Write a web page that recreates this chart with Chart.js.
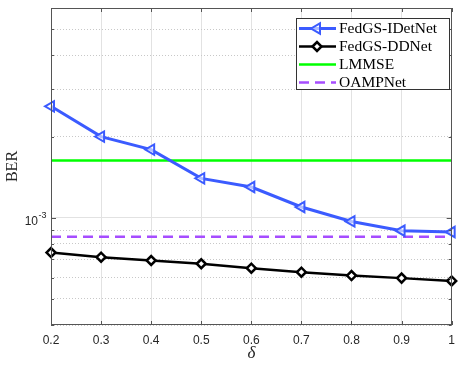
<!DOCTYPE html>
<html><head><meta charset="utf-8">
<script src="https://cdn.jsdelivr.net/npm/chart.js@4"></script>
<style>html,body{margin:0;padding:0;background:#fff}#wrap{width:463px;height:368px}</style>
</head><body><div id="wrap"><canvas id="c" width="463" height="368"></canvas></div>
<script>
// ---- data ----
const deltas = [0.2, 0.3, 0.4, 0.5, 0.6, 0.7, 0.8, 0.9, 1.0];
const fedgsIDetNet = [2.59e-3, 2.00e-3, 1.79e-3, 1.40e-3, 1.30e-3, 1.096e-3, 0.969e-3, 0.895e-3, 0.885e-3];
const fedgsDDNet = [0.743e-3, 0.714e-3, 0.694e-3, 0.675e-3, 0.650e-3, 0.628e-3, 0.610e-3, 0.597e-3, 0.583e-3];
const lmmse = [1.63e-3, 1.63e-3, 1.63e-3, 1.63e-3, 1.63e-3, 1.63e-3, 1.63e-3, 1.63e-3, 1.63e-3];
const oampNet = [0.85e-3, 0.85e-3, 0.85e-3, 0.85e-3, 0.85e-3, 0.85e-3, 0.85e-3, 0.85e-3, 0.85e-3];
const seriesNames = ['FedGS-IDetNet', 'FedGS-DDNet', 'LMMSE', 'OAMPNet'];
const xTickValues = [0.2, 0.3, 0.4, 0.5, 0.6, 0.7, 0.8, 0.9, 1.0];
const xTickLabels = ['0.2', '0.3', '0.4', '0.5', '0.6', '0.7', '0.8', '0.9', '1'];
const yTickValues = [4e-4, 5e-4, 6e-4, 7e-4, 8e-4, 9e-4, 1e-3, 2e-3, 3e-3, 4e-3, 5e-3, 6e-3];
const yMajorValues = [1e-3];
const yMajorLabels = [['10', '-3']];

const pts = arr => arr.map((v, i) => ({x: deltas[i], y: v}));
const isMajor = v => yMajorValues.some(m => Math.abs(v - m) / m < 1e-6);
const AXIS = '#262626';

const frame = {
  id: 'frame',
  afterDraw(chart) {
    const {ctx, chartArea: a, scales} = chart;
    ctx.save();
    // box
    ctx.strokeStyle = '#555';
    ctx.lineWidth = 1;
    ctx.strokeRect(Math.round(a.left) + 0.5, Math.round(a.top) + 0.5,
                   Math.round(a.right - a.left) - 1, Math.round(a.bottom - a.top) - 1);
    // inward ticks
    ctx.beginPath();
    scales.x.ticks.forEach(t => {
      const px = Math.round(scales.x.getPixelForValue(t.value)) + 0.5;
      ctx.moveTo(px, a.bottom); ctx.lineTo(px, a.bottom - 4);
      ctx.moveTo(px, a.top); ctx.lineTo(px, a.top + 4);
    });
    scales.y.ticks.forEach(t => {
      const py = Math.round(scales.y.getPixelForValue(t.value)) + 0.5;
      const L = isMajor(t.value) ? 5 : 3;
      ctx.moveTo(a.left, py); ctx.lineTo(a.left + L, py);
      ctx.moveTo(a.right, py); ctx.lineTo(a.right - L, py);
    });
    ctx.stroke();
    // y major labels with superscript
    ctx.fillStyle = AXIS;
    ctx.textBaseline = 'alphabetic';
    yMajorValues.forEach((v, i) => {
      const py = scales.y.getPixelForValue(v);
      const [base, sup] = yMajorLabels[i];
      ctx.font = '9px "Liberation Sans", Arial, sans-serif';
      const w2 = ctx.measureText(sup).width;
      const right = a.left - 4.5;
      ctx.textAlign = 'left';
      ctx.fillText(sup, right - w2, py + 0.5);
      ctx.font = '12px "Liberation Sans", Arial, sans-serif';
      ctx.textAlign = 'right';
      ctx.fillText(base, right - w2 - 0.5, py + 7);
    });
    // legend
    const lx = 296, ly = 18, lw = 153, lh = 71;
    ctx.fillStyle = '#fff';
    ctx.fillRect(lx, ly, lw, lh);
    ctx.strokeStyle = '#333';
    ctx.lineWidth = 1;
    ctx.strokeRect(lx + 0.5, ly + 0.5, lw, lh);
    chart.data.datasets.forEach((ds, i) => {
      const y = ly + 10.5 + i * 18;
      ctx.save();
      ctx.strokeStyle = ds.borderColor;
      ctx.lineWidth = ds.borderWidth;
      ctx.setLineDash(ds.borderDash || []);
      ctx.beginPath();
      ctx.moveTo(lx + 3, y); ctx.lineTo(lx + 40, y);
      ctx.stroke();
      ctx.restore();
      if (ds.pointRadius > 0) {
        ctx.save();
        ctx.fillStyle = ds.pointBackgroundColor;
        ctx.strokeStyle = ds.borderColor;
        ctx.lineWidth = ds.pointBorderWidth;
        Chart.helpers.drawPoint(ctx, {
          pointStyle: ds.pointStyle, rotation: ds.pointRotation || 0,
          radius: ds.pointRadius, borderWidth: ds.pointBorderWidth
        }, lx + 21, y);
        ctx.restore();
      }
      ctx.fillStyle = '#000';
      ctx.font = '15.5px "Liberation Serif", "Times New Roman", serif';
      ctx.textAlign = 'left';
      ctx.textBaseline = 'middle';
      ctx.fillText(ds.label, lx + 43, y + 0.5);
    });
    ctx.restore();
  }
};

new Chart(document.getElementById('c'), {
  type: 'line',
  data: {
    datasets: [
      {label: seriesNames[0], data: pts(fedgsIDetNet), borderColor: '#3b5bff', borderWidth: 3,
       pointStyle: 'triangle', pointRotation: -90, pointRadius: 6, pointBorderWidth: 2,
       pointBackgroundColor: 'rgba(255,255,255,0.6)', pointBorderColor: '#3b5bff', clip: 12},
      {label: seriesNames[1], data: pts(fedgsDDNet), borderColor: '#000000', borderWidth: 2.5,
       pointStyle: 'rectRot', pointRadius: 4.5, pointBorderWidth: 2.5,
       pointBackgroundColor: '#ffffff', pointBorderColor: '#000000', clip: 12},
      {label: seriesNames[2], data: pts(lmmse), borderColor: '#00ff00', borderWidth: 2.5, pointRadius: 0},
      {label: seriesNames[3], data: pts(oampNet), borderColor: '#a64dff', borderWidth: 2.5,
       borderDash: [10, 6], pointRadius: 0}
    ]
  },
  options: {
    responsive: false, animation: false, devicePixelRatio: 1,
    layout: {padding: {top: 8, right: 10, left: 0, bottom: 0}},
    plugins: {legend: {display: false}, tooltip: {enabled: false}},
    elements: {line: {tension: 0}},
    scales: {
      x: {
        type: 'linear', min: 0.2, max: 1.0,
        afterBuildTicks: s => { s.ticks = xTickValues.map(v => ({value: v})); },
        afterFit: s => { s.height = 43; },
        grid: {color: '#e2e2e2', lineWidth: 1, drawTicks: false},
        border: {display: false},
        ticks: {
          padding: 8, color: AXIS, font: {family: '"Liberation Sans", Arial, sans-serif', size: 12},
          callback: (v) => { const i = xTickValues.findIndex(t => Math.abs(t - v) < 1e-9); return i >= 0 ? xTickLabels[i] : ''; },
          maxRotation: 0, autoSkip: false
        },
        title: {display: true, text: 'δ', color: AXIS,
          font: {family: '"Liberation Serif", "Times New Roman", serif', size: 17, style: 'italic'},
          padding: {top: 0, bottom: 4}}
      },
      y: {
        type: 'logarithmic', min: 4e-4, max: 6e-3,
        afterBuildTicks: s => { s.ticks = yTickValues.map(v => ({value: v})); },
        afterFit: s => { s.width = 51; },
        grid: {
          drawTicks: false, lineWidth: 1,
          color: c => (c.tick && isMajor(c.tick.value)) ? '#e2e2e2' : '#c8c8c8'
        },
        border: {display: false, dash: c => (c.tick && isMajor(c.tick.value)) ? [] : [1, 2]},
        ticks: {display: false, callback: () => ''},
        title: {display: true, text: 'BER', color: AXIS,
          font: {family: '"Liberation Serif", "Times New Roman", serif', size: 16},
          padding: {top: 3, bottom: 0}}
      }
    }
  },
  plugins: [frame]
});
</script></body></html>
